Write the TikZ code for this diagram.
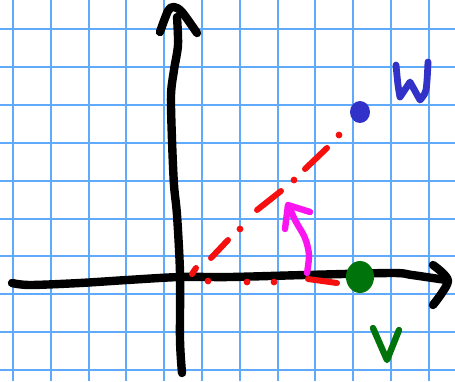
\documentclass[tikz,border=0pt]{standalone}
\usepackage{tikz}

\definecolor{gridblue}{RGB}{95,170,250}
\definecolor{penred}{RGB}{245,15,15}
\definecolor{penpink}{RGB}{250,20,240}
\definecolor{pengreen}{RGB}{0,115,10}
\definecolor{penblue}{RGB}{50,50,200}

\begin{document}
\begin{tikzpicture}[x=0.5pt, y=-0.5pt,
    pen/.style={line width=#1, line cap=round, line join=round},
    pen/.default=4.2pt,
    gridline/.style={gridblue, line width=1pt},
    reddot/.style={penred, fill=penred, circle, inner sep=0pt, minimum size=3.4pt}
  ]
  \useasboundingbox[fill=white] (0,0) rectangle (455,381);
  \foreach \k in {0,...,11} \draw[gridline] ({13+37.8*\k},0) -- ({13+37.8*\k},381);
  \foreach \k in {0,...,9} \draw[gridline] (0,{29+37.9*\k}) -- (455,{29+37.9*\k});

  \coordinate (O) at (190,275);
  \coordinate (vtip) at (360,277);
  \coordinate (wtip) at (360,112);

  \draw[pen] plot[smooth] coordinates {(182,373) (180,340) (180,273) (177,215) (174,185) (172,140) (171,95) (174,70) (178,45) (177,17)};
  \draw[pen] plot[smooth] coordinates {(160,32) (168,11) (174,7) (182,12) (197,33)};
  \draw[pen] plot[smooth] coordinates {(12,283) (30,285) (80,283) (127,280) (180,277) (230,277) (305,275) (392,273) (412,275) (446,280)};
  \draw[pen] plot[smooth] coordinates {(433,265) (448,281) (433,305)};

  \draw[penred, pen=3pt] (192,274) -- (196,268);
  \draw[penred, pen=3pt] (211,258) -- (228,240);
  \draw[penred, pen=3pt] (257,210) -- (281,191);
  \draw[penred, pen=3pt] (305,169) -- (327,148);
  \foreach \p in {(240,229), (294,180), (339,135), (208,281), (247,282), (274,282)}
    \node[reddot] at \p {};
  \draw[penred, pen=3pt] (308,279) -- (337,283);

  \draw[penpink, pen=3.2pt] plot[smooth] coordinates {(307,273) (309,255) (305,238) (295,220) (289,206)};
  \draw[penpink, pen=3.2pt] (285,229) -- (288,205) -- (310,212);

  \fill[pengreen] (vtip) ellipse[x radius=14, y radius=16];
  \draw[pengreen, pen=3.2pt] (373,328) -- (387,360) -- (399,330);

  \fill[penblue] (wtip) ellipse[x radius=10, y radius=11];
  \draw[penblue, pen=3.4pt] plot[smooth] coordinates {(396,65) (398,85) (400,97)} -- (410,82) -- plot[smooth] coordinates {(420,100) (426,90) (428,62)};
\end{tikzpicture}
\end{document}
